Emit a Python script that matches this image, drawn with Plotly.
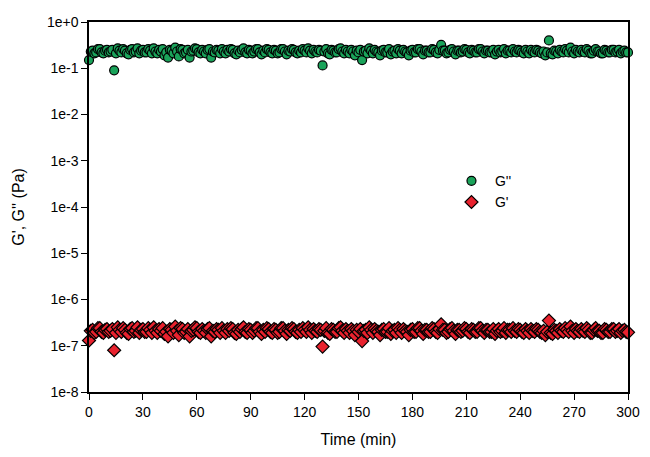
import plotly.graph_objects as go

# time in minutes (one reading per minute)
time_min = [0, 1, 2, 3, 4, 5, 6, 7, 8, 9, 10, 11, 12, 13, 14, 15, 16, 17, 18, 19,
            20, 21, 22, 23, 24, 25, 26, 27, 28, 29, 30, 31, 32, 33, 34, 35, 36, 37, 38, 39,
            40, 41, 42, 43, 44, 45, 46, 47, 48, 49, 50, 51, 52, 53, 54, 55, 56, 57, 58, 59,
            60, 61, 62, 63, 64, 65, 66, 67, 68, 69, 70, 71, 72, 73, 74, 75, 76, 77, 78, 79,
            80, 81, 82, 83, 84, 85, 86, 87, 88, 89, 90, 91, 92, 93, 94, 95, 96, 97, 98, 99,
            100, 101, 102, 103, 104, 105, 106, 107, 108, 109, 110, 111, 112, 113, 114, 115, 116, 117, 118, 119,
            120, 121, 122, 123, 124, 125, 126, 127, 128, 129, 130, 131, 132, 133, 134, 135, 136, 137, 138, 139,
            140, 141, 142, 143, 144, 145, 146, 147, 148, 149, 150, 151, 152, 153, 154, 155, 156, 157, 158, 159,
            160, 161, 162, 163, 164, 165, 166, 167, 168, 169, 170, 171, 172, 173, 174, 175, 176, 177, 178, 179,
            180, 181, 182, 183, 184, 185, 186, 187, 188, 189, 190, 191, 192, 193, 194, 195, 196, 197, 198, 199,
            200, 201, 202, 203, 204, 205, 206, 207, 208, 209, 210, 211, 212, 213, 214, 215, 216, 217, 218, 219,
            220, 221, 222, 223, 224, 225, 226, 227, 228, 229, 230, 231, 232, 233, 234, 235, 236, 237, 238, 239,
            240, 241, 242, 243, 244, 245, 246, 247, 248, 249, 250, 251, 252, 253, 254, 255, 256, 257, 258, 259,
            260, 261, 262, 263, 264, 265, 266, 267, 268, 269, 270, 271, 272, 273, 274, 275, 276, 277, 278, 279,
            280, 281, 282, 283, 284, 285, 286, 287, 288, 289, 290, 291, 292, 293, 294, 295, 296, 297, 298, 299,
            300]

# G'' (loss modulus), Pa
g_loss = [0.15, 0.23, 0.24, 0.21, 0.22, 0.26, 0.26, 0.22, 0.21, 0.24, 0.25, 0.22, 0.23, 0.25, 0.09, 0.21, 0.27, 0.24, 0.22, 0.26,
          0.24, 0.21, 0.20, 0.25, 0.26, 0.22, 0.23, 0.27, 0.21, 0.24, 0.25, 0.22, 0.22, 0.26, 0.24, 0.21, 0.27, 0.23, 0.21, 0.25,
          0.23, 0.26, 0.19, 0.22, 0.17, 0.25, 0.24, 0.21, 0.28, 0.23, 0.18, 0.26, 0.25, 0.21, 0.22, 0.25, 0.17, 0.23, 0.24, 0.27,
          0.26, 0.22, 0.21, 0.25, 0.23, 0.21, 0.25, 0.26, 0.17, 0.23, 0.22, 0.25, 0.24, 0.21, 0.26, 0.23, 0.21, 0.25, 0.23, 0.26,
          0.25, 0.21, 0.20, 0.24, 0.22, 0.25, 0.27, 0.22, 0.21, 0.25, 0.24, 0.21, 0.23, 0.26, 0.26, 0.22, 0.20, 0.24, 0.22, 0.26,
          0.25, 0.22, 0.21, 0.25, 0.24, 0.21, 0.22, 0.26, 0.26, 0.23, 0.20, 0.24, 0.23, 0.26, 0.25, 0.22, 0.21, 0.24, 0.22, 0.26,
          0.24, 0.22, 0.27, 0.24, 0.21, 0.25, 0.23, 0.22, 0.25, 0.24, 0.115, 0.23, 0.26, 0.21, 0.20, 0.25, 0.24, 0.22, 0.22, 0.26,
          0.27, 0.23, 0.21, 0.25, 0.23, 0.21, 0.25, 0.23, 0.19, 0.24, 0.22, 0.25, 0.15, 0.23, 0.24, 0.21, 0.27, 0.24, 0.21, 0.25,
          0.23, 0.22, 0.19, 0.24, 0.25, 0.22, 0.22, 0.26, 0.20, 0.23, 0.24, 0.21, 0.26, 0.24, 0.21, 0.25, 0.23, 0.22, 0.19, 0.24,
          0.25, 0.22, 0.22, 0.26, 0.26, 0.23, 0.20, 0.24, 0.24, 0.22, 0.22, 0.26, 0.25, 0.22, 0.21, 0.25, 0.32, 0.24, 0.24, 0.21,
          0.22, 0.25, 0.26, 0.23, 0.20, 0.24, 0.24, 0.22, 0.23, 0.26, 0.25, 0.22, 0.21, 0.25, 0.24, 0.22, 0.22, 0.26, 0.26, 0.23,
          0.21, 0.24, 0.24, 0.22, 0.22, 0.25, 0.20, 0.23, 0.25, 0.22, 0.23, 0.26, 0.21, 0.24, 0.24, 0.22, 0.26, 0.23, 0.22, 0.25,
          0.24, 0.22, 0.21, 0.25, 0.23, 0.21, 0.25, 0.23, 0.22, 0.25, 0.24, 0.22, 0.21, 0.23, 0.19, 0.22, 0.40, 0.21, 0.20, 0.24,
          0.23, 0.21, 0.25, 0.23, 0.22, 0.26, 0.24, 0.22, 0.28, 0.23, 0.21, 0.25, 0.23, 0.22, 0.25, 0.23, 0.22, 0.26, 0.24, 0.21,
          0.21, 0.24, 0.26, 0.23, 0.23, 0.21, 0.21, 0.25, 0.24, 0.22, 0.22, 0.25, 0.25, 0.22, 0.23, 0.25, 0.21, 0.23, 0.24, 0.22,
          0.22]

# G' (storage modulus), Pa
g_storage = [1.3e-7, 2.1e-7, 2.2e-7, 1.9e-7, 2.0e-7, 2.4e-7, 2.4e-7, 2.0e-7, 1.9e-7, 2.2e-7,
             2.3e-7, 2.0e-7, 2.1e-7, 2.3e-7, 0.8e-7, 1.9e-7, 2.5e-7, 2.2e-7, 2.0e-7, 2.4e-7,
             2.2e-7, 1.9e-7, 1.8e-7, 2.3e-7, 2.4e-7, 2.0e-7, 2.1e-7, 2.5e-7, 1.9e-7, 2.2e-7,
             2.3e-7, 2.0e-7, 2.0e-7, 2.4e-7, 2.2e-7, 1.9e-7, 2.5e-7, 2.1e-7, 1.9e-7, 2.3e-7,
             2.1e-7, 2.4e-7, 1.8e-7, 2.0e-7, 1.6e-7, 2.3e-7, 2.2e-7, 1.9e-7, 2.6e-7, 2.1e-7,
             1.7e-7, 2.4e-7, 2.3e-7, 1.9e-7, 2.0e-7, 2.3e-7, 1.6e-7, 2.1e-7, 2.2e-7, 2.5e-7,
             2.4e-7, 2.0e-7, 1.9e-7, 2.3e-7, 2.1e-7, 1.9e-7, 2.3e-7, 2.4e-7, 1.6e-7, 2.1e-7,
             2.0e-7, 2.3e-7, 2.2e-7, 1.9e-7, 2.4e-7, 2.1e-7, 1.9e-7, 2.3e-7, 2.1e-7, 2.4e-7,
             2.3e-7, 1.9e-7, 1.8e-7, 2.2e-7, 2.0e-7, 2.3e-7, 2.5e-7, 2.0e-7, 1.9e-7, 2.3e-7,
             2.2e-7, 1.9e-7, 2.1e-7, 2.4e-7, 2.4e-7, 2.0e-7, 1.8e-7, 2.2e-7, 2.0e-7, 2.4e-7,
             2.3e-7, 2.0e-7, 1.9e-7, 2.3e-7, 2.2e-7, 1.9e-7, 2.0e-7, 2.4e-7, 2.4e-7, 2.1e-7,
             1.8e-7, 2.2e-7, 2.1e-7, 2.4e-7, 2.3e-7, 2.0e-7, 1.9e-7, 2.2e-7, 2.0e-7, 2.4e-7,
             2.2e-7, 2.0e-7, 2.5e-7, 2.2e-7, 1.9e-7, 2.3e-7, 2.1e-7, 2.0e-7, 2.3e-7, 2.2e-7,
             0.96e-7, 2.1e-7, 2.4e-7, 1.9e-7, 1.8e-7, 2.3e-7, 2.2e-7, 2.0e-7, 2.0e-7, 2.4e-7,
             2.5e-7, 2.1e-7, 1.9e-7, 2.3e-7, 2.1e-7, 1.9e-7, 2.3e-7, 2.1e-7, 1.7e-7, 2.2e-7,
             2.0e-7, 2.3e-7, 1.26e-7, 2.1e-7, 2.2e-7, 1.9e-7, 2.5e-7, 2.2e-7, 1.9e-7, 2.3e-7,
             2.1e-7, 2.0e-7, 1.7e-7, 2.2e-7, 2.3e-7, 2.0e-7, 2.0e-7, 2.4e-7, 1.8e-7, 2.1e-7,
             2.2e-7, 1.9e-7, 2.4e-7, 2.2e-7, 1.9e-7, 2.3e-7, 2.1e-7, 2.0e-7, 1.7e-7, 2.2e-7,
             2.3e-7, 2.0e-7, 2.0e-7, 2.4e-7, 2.4e-7, 2.1e-7, 1.8e-7, 2.2e-7, 2.2e-7, 2.0e-7,
             2.0e-7, 2.4e-7, 2.3e-7, 2.0e-7, 1.9e-7, 2.3e-7, 2.9e-7, 2.2e-7, 2.2e-7, 1.9e-7,
             2.0e-7, 2.3e-7, 2.4e-7, 2.1e-7, 1.8e-7, 2.2e-7, 2.2e-7, 2.0e-7, 2.1e-7, 2.4e-7,
             2.3e-7, 2.0e-7, 1.9e-7, 2.3e-7, 2.2e-7, 2.0e-7, 2.0e-7, 2.4e-7, 2.4e-7, 2.1e-7,
             1.9e-7, 2.2e-7, 2.2e-7, 2.0e-7, 2.0e-7, 2.3e-7, 1.8e-7, 2.1e-7, 2.3e-7, 2.0e-7,
             2.1e-7, 2.4e-7, 1.9e-7, 2.2e-7, 2.2e-7, 2.0e-7, 2.4e-7, 2.1e-7, 2.0e-7, 2.3e-7,
             2.2e-7, 2.0e-7, 1.9e-7, 2.3e-7, 2.1e-7, 1.9e-7, 2.3e-7, 2.1e-7, 2.0e-7, 2.3e-7,
             2.2e-7, 2.0e-7, 1.9e-7, 2.1e-7, 1.7e-7, 2.0e-7, 3.5e-7, 1.9e-7, 1.8e-7, 2.2e-7,
             2.1e-7, 1.9e-7, 2.3e-7, 2.1e-7, 2.0e-7, 2.4e-7, 2.2e-7, 2.0e-7, 2.6e-7, 2.1e-7,
             1.9e-7, 2.3e-7, 2.1e-7, 2.0e-7, 2.3e-7, 2.1e-7, 2.0e-7, 2.4e-7, 2.2e-7, 1.9e-7,
             1.9e-7, 2.2e-7, 2.4e-7, 2.1e-7, 2.1e-7, 1.9e-7, 1.9e-7, 2.3e-7, 2.2e-7, 2.0e-7,
             2.0e-7, 2.3e-7, 2.3e-7, 2.0e-7, 2.1e-7, 2.3e-7, 1.9e-7, 2.1e-7, 2.2e-7, 2.0e-7,
             1.95e-7]

x_ticks = [0, 30, 60, 90, 120, 150, 180, 210, 240, 270, 300]
y_tickvals = [1, 1e-1, 1e-2, 1e-3, 1e-4, 1e-5, 1e-6, 1e-7, 1e-8]
y_ticktext = ["1e+0", "1e-1", "1e-2", "1e-3", "1e-4", "1e-5", "1e-6", "1e-7", "1e-8"]

font_family = "Liberation Sans, Arial, sans-serif"

fig = go.Figure()
fig.add_trace(go.Scatter(x=time_min, y=g_loss, mode="markers", name="G''",
                         cliponaxis=False,
                         marker=dict(symbol="circle", size=9, color="#1aa35a",
                                     line=dict(color="black", width=1.2))))
fig.add_trace(go.Scatter(x=time_min, y=g_storage, mode="markers", name="G'",
                         cliponaxis=False,
                         marker=dict(symbol="diamond", size=10, color="#e8222e",
                                     line=dict(color="black", width=1.2))))

fig.update_xaxes(range=[0, 300], tickvals=x_ticks, ticks="outside", ticklen=6,
                 tickwidth=1, tickcolor="black", showline=True, linecolor="black",
                 linewidth=1.5, mirror=True, showgrid=False, zeroline=False,
                 title=dict(text="Time (min)", font=dict(size=16, color="black"), standoff=15),
                 tickfont=dict(size=14, color="black"))
fig.update_yaxes(type="log", range=[-8, 0], tickvals=y_tickvals, ticktext=y_ticktext,
                 ticks="outside", ticklen=6, tickwidth=1, tickcolor="black",
                 showline=True, linecolor="black", linewidth=1.5, mirror=True,
                 showgrid=False, zeroline=False, ticklabeloverflow="allow",
                 title=dict(text="G', G'' (Pa)", font=dict(size=16, color="black"), standoff=18),
                 tickfont=dict(size=14, color="black"))

# the page body adds an 8px offset, so margins are shifted to keep the plot area in place
fig.update_layout(width=650, height=457, plot_bgcolor="white", paper_bgcolor="white",
                  font=dict(family=font_family, color="black"),
                  margin=dict(l=81, r=30, t=6, b=73),
                  legend=dict(x=0.666, y=0.613, xanchor="left", yanchor="top",
                              bgcolor="rgba(0,0,0,0)", font=dict(size=14, color="black"),
                              itemwidth=37, tracegroupgap=0))

fig.write_html("out.html")
